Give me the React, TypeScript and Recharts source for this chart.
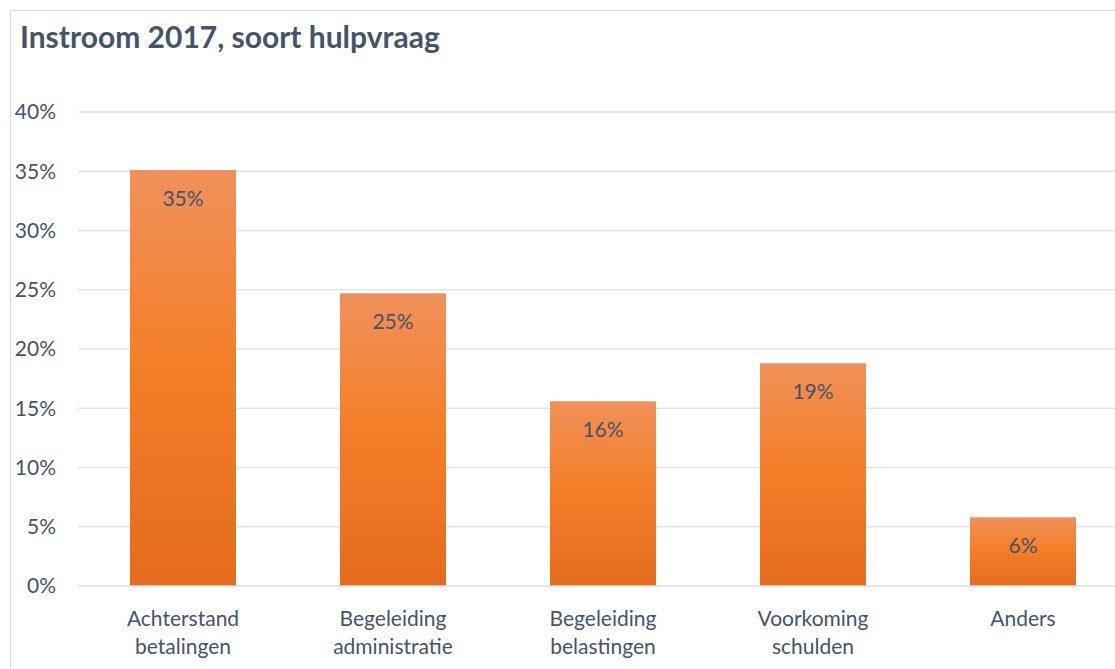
import { BarChart, Bar, XAxis, YAxis, CartesianGrid, LabelList } from 'recharts';

const categories = [
  'Achterstand betalingen',
  'Begeleiding administratie',
  'Begeleiding belastingen',
  'Voorkoming schulden',
  'Anders',
];
const shares = [35.1, 24.7, 15.6, 18.8, 5.8];
const shareLabels = ['35%', '25%', '16%', '19%', '6%'];
const yTicks = [0, 5, 10, 15, 20, 25, 30, 35, 40];

const data = categories.map((name, i) => ({ name, value: shares[i], label: shareLabels[i] }));

const textColor = '#44546A';
const font = 'Lato, "Open Sans", sans-serif';

// two-line category labels, split on the space like Excel does
const CategoryTick = (props: any) => {
  const { x, y, payload } = props;
  const words = String(payload.value).split(' ');
  return (
    <text x={x} y={y} textAnchor="middle" fill={textColor} fontSize={21} fontFamily={font}>
      {words.map((w, i) => (
        <tspan key={i} x={x} dy={i === 0 ? 32 : 28}>
          {w}
        </tspan>
      ))}
    </text>
  );
};

export default function App() {
  return (
    <div style={{ position: 'absolute', left: 0, top: 0, width: 1115, height: 669, overflow: 'hidden', background: '#fff' }}>
      {/* chart frame */}
      <div
        style={{
          position: 'absolute',
          left: 10,
          top: 10,
          width: 1200,
          height: 800,
          border: '1.5px solid #D9DDE3',
          boxSizing: 'border-box',
        }}
      />
      <div
        style={{
          position: 'absolute',
          left: 20,
          top: 18,
          fontFamily: font,
          fontWeight: 700,
          fontSize: 30,
          color: textColor,
          whiteSpace: 'nowrap',
        }}
      >
        Instroom 2017, soort hulpvraag
      </div>
      <div style={{ position: 'absolute', left: 0, top: 0 }}>
        <BarChart
          width={1140}
          height={669}
          data={data}
          margin={{ top: 112, right: 12, bottom: 0, left: 0 }}
        >
          <defs>
            <linearGradient id="barFill" x1="0" y1="0" x2="0" y2="1">
              <stop offset="0%" stopColor="#F0915A" />
              <stop offset="45%" stopColor="#F47F2A" />
              <stop offset="100%" stopColor="#E46C1C" />
            </linearGradient>
          </defs>
          <CartesianGrid vertical={false} stroke="#E1E4EA" strokeWidth={1.5} />
          <XAxis
            dataKey="name"
            height={83}
            axisLine={{ stroke: '#E1E4EA', strokeWidth: 1.5 }}
            tickLine={false}
            tick={<CategoryTick />}
            interval={0}
          />
          <YAxis
            width={78}
            domain={[0, 40]}
            ticks={yTicks}
            tickFormatter={(v: number) => `${v}%`}
            axisLine={false}
            tickLine={false}
            tickSize={0}
            tickMargin={22}
            tick={{ fill: textColor, fontSize: 21, fontFamily: font }}
          />
          <Bar dataKey="value" fill="url(#barFill)" barSize={106} isAnimationActive={false}>
            <LabelList
              dataKey="label"
              position="insideTop"
              offset={21}
              fill={textColor}
              fontSize={21}
              fontFamily={font}
            />
          </Bar>
        </BarChart>
      </div>
    </div>
  );
}
